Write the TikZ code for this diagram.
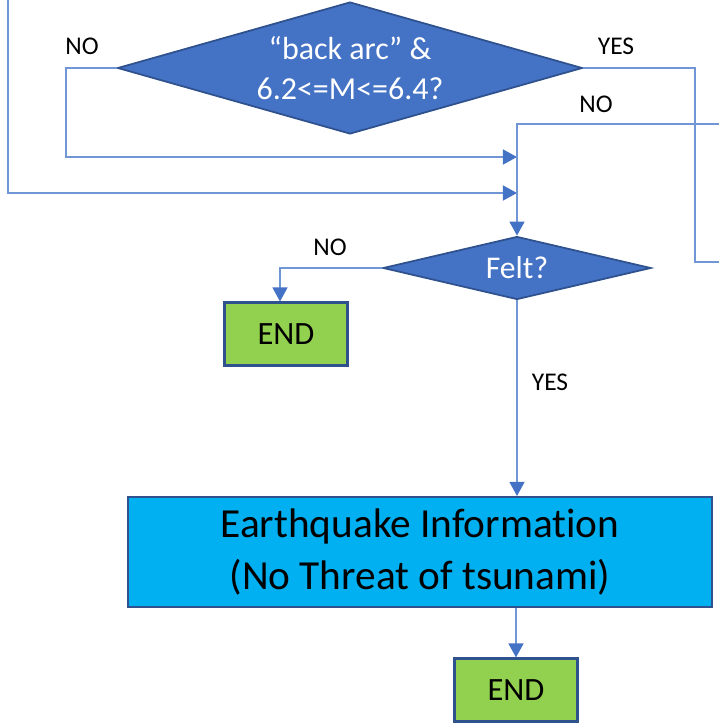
\documentclass[tikz,border=0pt]{standalone}
\usepackage{fontspec}
\setmainfont{Carlito}[Ligatures=NoCommon]
\usetikzlibrary{arrows.meta,shapes.geometric}
\definecolor{dkblue}{HTML}{2F528F}
\definecolor{medblue}{HTML}{4472C4}
\definecolor{lnblue}{HTML}{7196D6}
\definecolor{endgreen}{HTML}{92D050}
\definecolor{infoblue}{HTML}{00B0F0}

\begin{document}
\begin{tikzpicture}[x=0.02cm,y=-0.02cm,
  link/.style={lnblue,line width=1pt},
  arr/.style={link,-{Triangle[length=8pt,width=8.5pt,color=medblue]}},
  decision/.style={diamond,fill=medblue,draw=dkblue,line width=1pt,inner sep=0pt},
  endbox/.style={rectangle,fill=endgreen,draw=dkblue,line width=1.2pt,
    minimum width=2.46cm,minimum height=1.26cm,font=\fontsize{18.5}{22}\selectfont},
  tag/.style={font=\fontsize{14.5}{17}\selectfont}]

  \useasboundingbox (0,0) rectangle (719,728);

  \node[decision,minimum width=9.3cm,minimum height=2.64cm,
    label={[white,align=center,font=\fontsize{18.2}{23}\selectfont]center:{“back arc” \&\\6.2<=M<=6.4?}}]
    (arc) at (350,68) {};
  \node[decision,minimum width=5.36cm,minimum height=1.26cm,
    label={[white,font=\fontsize{18}{21}\selectfont]center:{Felt?}}]
    (felt) at (517,268) {};
  \node[endbox] (end1) at (286,334) {END};
  \node[rectangle,fill=infoblue,draw=dkblue,line width=1.2pt,
    minimum width=11.68cm,minimum height=2.2cm,align=center,
    font=\fontsize{23.5}{30}\selectfont] (info) at (420,552)
    {Earthquake Information\\(No Threat of tsunami)};
  \node[endbox] (end2) at (516,690) {END};

  % loose ends and bends
  \coordinate (inL) at (8,0);
  \coordinate (in2) at (517,193);
  \coordinate (noL) at (66,68);
  \coordinate (in1) at (517,157);
  \coordinate (yesR) at (695,68);
  \coordinate (outR) at (719,262);
  \coordinate (inR) at (719,124);
  \coordinate (bendR) at (517,124);
  \coordinate (noF) at (280,268);

  \draw[arr] (inL) |- (in2);
  \draw[arr] (arc.west) -- (noL) |- (in1);
  \draw[link] (arc.east) -- (yesR) |- (outR);
  \draw[arr] (inR) -- (bendR) -- (felt.north);
  \draw[arr] (felt.west) -- (noF) -- (noF |- end1.north);
  \draw[arr] (felt.south) -- (felt.south |- info.north);
  \draw[arr] (end2.north |- info.south) -- (end2.north);

  \node[tag] (noA) at (82,46) {NO};
  \node[tag] (yesA) at (616,46) {YES};
  \node[tag] (noB) at (596,104) {NO};
  \node[tag] (noC) at (330,247) {NO};
  \node[tag] (yesC) at (550,382) {YES};
\end{tikzpicture}
\end{document}
